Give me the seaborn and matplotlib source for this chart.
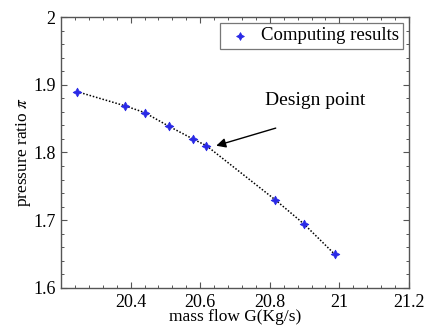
import matplotlib
matplotlib.use("Agg")
import matplotlib.pyplot as plt
from matplotlib.ticker import MultipleLocator, FuncFormatter
import seaborn as sns
import pandas as pd

# Compressor operating points
mass_flow = [20.245, 20.383, 20.44, 20.509, 20.579, 20.618, 20.816, 20.897, 20.986]
pressure_ratio = [1.890, 1.869, 1.859, 1.839, 1.820, 1.810, 1.730, 1.695, 1.650]
x_ticks = [20.4, 20.6, 20.8, 21.0, 21.2]
y_ticks = [1.6, 1.7, 1.8, 1.9, 2.0]
design_flow, design_ratio = 20.618, 1.810

df = pd.DataFrame({"G": mass_flow, "pi": pressure_ratio})

sns.set_style("ticks")
plt.rcParams["font.family"] = ["Liberation Serif", "DejaVu Serif"]
plt.rcParams["mathtext.fontset"] = "stix"
plt.rcParams["text.color"] = "black"
plt.rcParams["axes.labelcolor"] = "black"
plt.rcParams["xtick.labelcolor"] = "black"
plt.rcParams["ytick.labelcolor"] = "black"

fig = plt.figure(figsize=(4.29, 3.27), dpi=100)
ax = fig.add_axes([0.1422, 0.1193, 0.8112, 0.8287])

sns.lineplot(data=df, x="G", y="pi", ax=ax, color="black", lw=1.1,
             linestyle=(0, (1, 1.2)), sort=True)
sns.scatterplot(data=df, x="G", y="pi", ax=ax, marker=(4, 1, 0), s=38,
                color="#2a2ae6", edgecolor="#2a2ae6", linewidth=0.6,
                label="Computing results", zorder=3)

ax.set_xlim(20.2, 21.2)
ax.set_ylim(1.6, 2.0)
ax.set_xticks(x_ticks)
ax.set_yticks(y_ticks)
ax.xaxis.set_minor_locator(MultipleLocator(0.04))
ax.yaxis.set_minor_locator(MultipleLocator(0.02))
fmt = FuncFormatter(lambda v, p: f"{v:g}")
ax.xaxis.set_major_formatter(fmt)
ax.yaxis.set_major_formatter(fmt)
ax.tick_params(which="both", direction="in", top=True, right=True,
               color="#555555", labelsize=13, pad=4)
ax.tick_params(which="major", length=4, width=0.8)
ax.tick_params(which="minor", length=2.5, width=0.7)
for s in ax.spines.values():
    s.set_color("#555555")
    s.set_linewidth(1.0)

ax.set_xlabel("mass flow G(Kg/s)", fontsize=12.5, labelpad=-1)
ax.set_ylabel(r"pressure ratio $\pi$", fontsize=12.5, labelpad=0)

ax.annotate("", xy=(design_flow + 0.028, design_ratio),
            xytext=(20.817, 1.836),
            arrowprops=dict(arrowstyle="-|>", color="black", lw=1.0,
                            mutation_scale=14, shrinkA=0, shrinkB=0))
ax.text(20.931, 1.877, "Design point", fontsize=14, ha="center", va="center")

leg = ax.legend(loc="upper right", fontsize=13.5, frameon=True, fancybox=False,
                borderaxespad=0.3, handletextpad=0.3, borderpad=0.25,
                handlelength=1.6, markerscale=0.9)
leg.get_frame().set_edgecolor("#555555")
leg.get_frame().set_linewidth(0.9)

fig.savefig("out.png", dpi=100)
